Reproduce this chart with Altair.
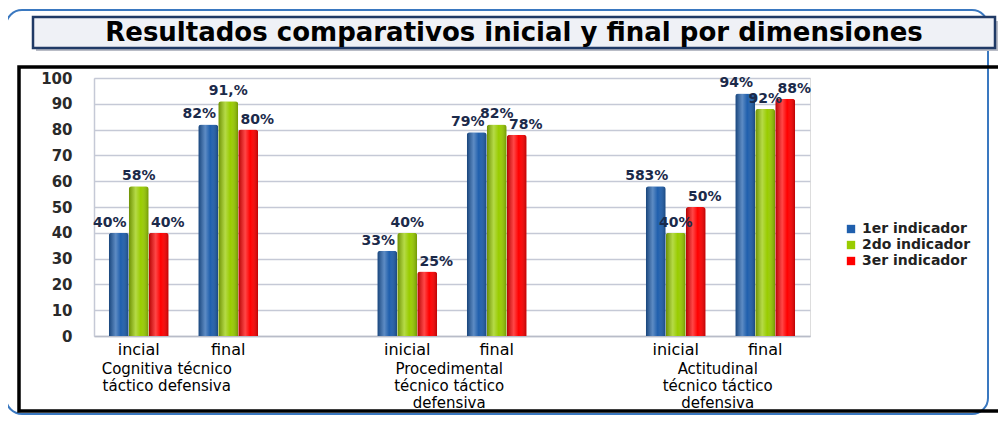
import altair as alt
import pandas as pd

slots = ["C_ini", "C_fin", "gap1", "P_ini", "P_fin", "gap2", "A_ini", "A_fin"]
slot_labels = ["incial", "final", "", "inicial", "final", "", "inicial", "final"]
series = ["1er indicador", "2do indicador", "3er indicador"]
colors = ["#1f5fad", "#99cc00", "#ff0000"]
bar_slots = ["C_ini", "C_fin", "P_ini", "P_fin", "A_ini", "A_fin"]
v1 = [40, 82, 33, 79, 58, 94]
v2 = [58, 91, 40, 82, 40, 88]
v3 = [40, 80, 25, 78, 50, 92]
l1 = ["40%", "82%", "33%", "79%", "583%", "94%"]
l2 = ["58%", "91,%", "40%", "82%", "40%", "92%"]
l3 = ["40%", "80%", "25%", "78%", "50%", "88%"]
groups = ["Cognitiva técnico\ntáctico defensiva",
          "Procedimental\ntécnico táctico\ndefensiva",
          "Actitudinal\ntécnico táctico\ndefensiva"]
group_slots = ["C_ini", "P_ini", "A_ini"]
title_text = "Resultados comparativos inicial y final por dimensiones"
y_ticks = list(range(0, 101, 10))

rows = []
for s, vals, labs in zip(series, [v1, v2, v3], [l1, l2, l3]):
    for slot, v, lab in zip(bar_slots, vals, labs):
        rows.append({"slot": slot, "series": s, "value": v, "label": lab})
df = pd.DataFrame(rows)
gdf = pd.DataFrame({"slot": group_slots, "text": groups})
dummy = pd.DataFrame({"a": [0]})

W, H = 716, 258
FONT = "DejaVu Sans"

label_expr = "[" + ",".join(f"'{l}'" for l in slot_labels) + "][indexof([" + \
    ",".join(f"'{s}'" for s in slots) + "], datum.value)]"

xscale = alt.Scale(domain=slots, paddingInner=0.33, paddingOuter=0.165)
xenc = alt.X("slot:N", scale=xscale, sort=slots,
             axis=alt.Axis(title=None, labelExpr=label_expr, labelAngle=0, ticks=False,
                           labelFontSize=16, labelColor="#000000", labelFont=FONT,
                           labelPadding=5, domainColor="#b8bcc8", domainWidth=1.5))
xoff = alt.XOffset("series:N", sort=series, scale=alt.Scale(domain=series))
yenc = alt.Y("value:Q", scale=alt.Scale(domain=[0, 100], nice=False),
             axis=alt.Axis(title=None, values=y_ticks, tickCount=11, ticks=False, labelPadding=22,
                           labelFontSize=15, labelFontWeight="bold", labelColor="#2a2a2a",
                           labelFont=FONT, labelOverlap=False, gridColor="#c5c9d6", gridWidth=1.5,
                           domainColor="#c5c9d6", domainWidth=1.5))

# decorative frames (transparent fill so axes and grid stay visible)
blue_frame = alt.Chart(dummy).mark_rect(fill="transparent", stroke="#3a78c0", strokeWidth=2,
                                        cornerRadius=16).encode(
    x=alt.value(-88), x2=alt.value(W + 178), y=alt.value(-68), y2=alt.value(H + 78))
black_frame = alt.Chart(dummy).mark_rect(fill="transparent", stroke="#000000", strokeWidth=3.5).encode(
    x=alt.value(-75), x2=alt.value(W + 200), y=alt.value(-11), y2=alt.value(H + 75))
title_shadow = alt.Chart(dummy).mark_rect(fill="#b9bcc6").encode(
    x=alt.value(-58), x2=alt.value(904), y=alt.value(-57), y2=alt.value(-27))
title_box = alt.Chart(dummy).mark_rect(fill="#eff1f6", stroke="#203a66", strokeWidth=2.5).encode(
    x=alt.value(-61), x2=alt.value(901), y=alt.value(-61), y2=alt.value(-30))
title = alt.Chart(dummy).mark_text(fontSize=26, fontWeight="bold", font=FONT, color="#000000",
                                   align="center", baseline="middle").encode(
    x=alt.value(420), y=alt.value(-45), text=alt.value(title_text))

bars = alt.Chart(df).mark_bar(cornerRadiusTopLeft=3, cornerRadiusTopRight=3).encode(
    x=xenc, xOffset=xoff, y=yenc,
    color=alt.Color("series:N", sort=series, scale=alt.Scale(domain=series, range=colors),
                    legend=alt.Legend(title=None, orient="none", legendX=750, legendY=144,
                                      symbolType="square", symbolSize=70, labelFontSize=14,
                                      labelFont=FONT, labelFontWeight="bold", labelColor="#222222",
                                      rowPadding=2, symbolStrokeWidth=0)))

shade = alt.Chart(df).mark_bar(
    cornerRadiusTopLeft=3, cornerRadiusTopRight=3,
    fill=alt.Gradient(gradient="linear", x1=0, x2=1, y1=0, y2=0,
                      stops=[alt.GradientStop(color="rgba(0,0,0,0.30)", offset=0),
                             alt.GradientStop(color="rgba(255,255,255,0.28)", offset=0.35),
                             alt.GradientStop(color="rgba(255,255,255,0.0)", offset=0.6),
                             alt.GradientStop(color="rgba(0,0,0,0.28)", offset=1)])).encode(
    x=xenc, xOffset=xoff, y=yenc)


def label_layer(s, dx):
    return alt.Chart(df).transform_filter(alt.datum.series == s).mark_text(
        fontSize=14, fontWeight="bold", font=FONT, color="#1b2a4a",
        baseline="bottom", dy=-3, dx=dx).encode(
        x=xenc, xOffset=xoff, y=yenc, text="label:N")


labels = [label_layer(series[0], -9), label_layer(series[1], 0), label_layer(series[2], 9)]

g1 = alt.Chart(gdf).transform_filter(alt.datum.slot == "C_ini").mark_text(
    fontSize=15, font=FONT, color="#000000", align="center", baseline="top",
    lineHeight=17, dx=28, lineBreak="\n").encode(
    x=xenc, y=alt.value(H + 26), text="text:N")
g2 = alt.Chart(gdf).transform_filter(alt.datum.slot != "C_ini").mark_text(
    fontSize=15, font=FONT, color="#000000", align="center", baseline="top",
    lineHeight=17, dx=42, lineBreak="\n").encode(
    x=xenc, y=alt.value(H + 26), text="text:N")

chart = alt.layer(blue_frame, black_frame, title_shadow, title_box, title,
                  bars, shade, *labels, g1, g2).properties(
    width=W, height=H,
    autosize=alt.AutoSizeParams(type="none"),
    padding={"left": 86, "top": 70, "right": 188, "bottom": 80},
).configure_view(stroke=None).configure(background="white")

chart.save("out.html", embed_options={"renderer": "svg", "actions": False})
